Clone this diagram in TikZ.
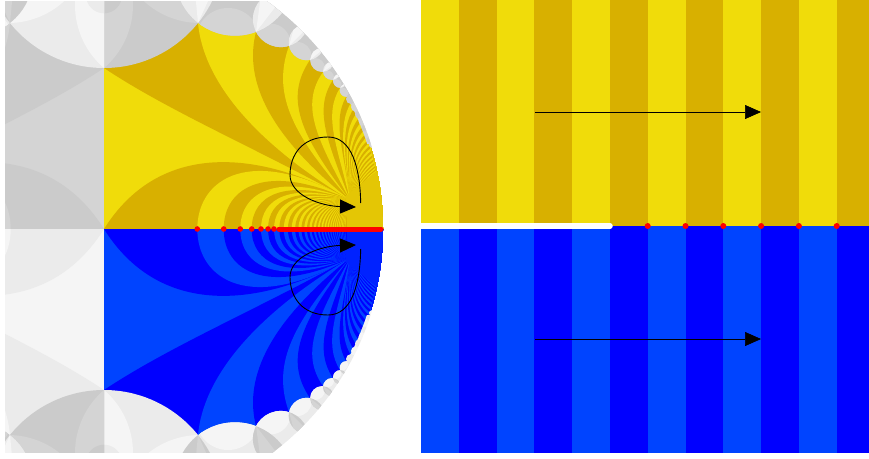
\documentclass[tikz,border=0pt]{standalone}
\usepackage{tikz}
\usetikzlibrary{arrows.meta, positioning, calc}
\definecolor{sunlight}{HTML}{F0DC0A}
\definecolor{sundark}{HTML}{D8B000}
\definecolor{bluelight}{HTML}{0044FF}
\definecolor{bluedark}{HTML}{0000FF}
\definecolor{greyA}{HTML}{CBCBCB}
\definecolor{greyB}{HTML}{D4D4D4}
\definecolor{greyC}{HTML}{EBEBEB}
\definecolor{greyD}{HTML}{F5F5F5}
\tikzset{
  flowarrow/.style={black, line width=0.6pt, -{Stealth[length=16pt, width=14pt, inset=0pt]}},
  looparrow/.style={flowarrow, line width=0.9pt},
  reddot/.style={red, fill=red}
}
% scallops along the rim of the upper right quarter
\def\capx{{104,235,280.9,306.7,322.2,332,340.1,346.3,351,355.5,359,362.5,365,367.5,369.5,371.5}}
\def\capy{{-52.7,-24.3,19.1,42.2,59.9,70.9,80.8,90.3,99,107,114.5,121.5,128,134,140,145}}
\def\capr{{120.7,60,28,18,12,9,7,6.5,5,4.5,4,3.8,3.5,3,3,2.5}}
\def\vertx{{104,198,256,289,310,323,333,340}}
\def\verty{{68,23,32,46,60,72,80,88}}
\begin{document}
\begin{tikzpicture}[x=1pt, y=-1pt]
  \useasboundingbox (0,0) rectangle (869,458);
  \fill[white] (0,0) rectangle (869,458);
  % disk, one quarter at a time
  \begin{scope}
    \clip (5,1) rectangle (386,452);
    \clip (104,229) circle (280);
    \foreach \sx/\sy/\stripeA/\stripeB/\capA/\capB/\capC/\capD in {
        1/1/sunlight/sundark/greyA/greyB/greyC/greyD,
        -1/1/greyB/greyA/greyC/greyD/greyA/greyB,
        1/-1/bluelight/bluedark/greyC/greyD/greyA/greyB,
        -1/-1/greyD/greyC/greyA/greyB/greyC/greyD} {
      \begin{scope}[shift={(104,229)}, xscale=\sx, yscale=\sy, shift={(-104,-229)}]
        \coordinate (focus) at (350,200);
        \clip (104,-10) rectangle (400,229);
        \begin{scope}
        \clip (104,229) circle (279);
        \fill[\stripeA] (104,-10) rectangle (400,229);
        % stripes running down from the scallops
        \foreach \k/\bx/\by/\ax/\ay/\cx/\cy in {
            0/104/68/170/112/260/150,
            1/198/23/203/78/250/140,
            2/256/32/245/75/262/130,
            3/289/46/273/91/288/130,
            4/310/60/284/98/300/135,
            5/323/72/300/105/316/137,
            6/333/80/313/110/328/142,
            7/340/88/323/115/337/145,
            8/346/97/332/122/344/150} {
          \ifodd\k\relax\colorlet{cur}{\stripeA}\else\colorlet{cur}{\stripeB}\fi
          \fill[cur] (\bx,\by) .. controls (\ax,\ay) and (\cx,\cy) .. (focus)
            -- (400,200) -- (400,-10) -- (\bx,-10) -- cycle;
        }
        \foreach \k in {9,...,60} {
          \pgfmathsetmacro{\th}{2*atan(1/(3.92+0.22*(\k-8)))}
          \pgfmathsetmacro{\bx}{104+278*cos(\th)}
          \pgfmathsetmacro{\by}{229-278*sin(\th)}
          \pgfmathsetmacro{\wt}{max(0,1-(\k-8)/30)}
          \ifodd\k\relax\colorlet{cur}{\stripeA}\else\colorlet{cur}{\stripeB}\fi
          \fill[cur] (\bx,\by) .. controls ({\bx+0.3*(350-\bx)-15*\wt},{\by+0.3*(200-\by)-6*\wt})
              and ({\bx+0.7*(350-\bx)-5*\wt},{\by+0.7*(200-\by)-10*\wt}) .. (focus)
            -- (400,200) -- (400,-10) -- (\bx,-10) -- cycle;
        }
        % stripes running up from the axis
        \fill[\stripeB] (104,229) .. controls (160,140) and (260,150) .. (focus)
          -- (400,200) -- (400,229) -- cycle;
        \foreach \k/\bx in {1/197.3,2/223.7,3/240.3,4/251.7,5/261,6/268,7/274,8/279.3} {
          \pgfmathsetmacro{\len}{350-\bx}
          \ifodd\k\relax\colorlet{cur}{\stripeA}\else\colorlet{cur}{\stripeB}\fi
          \fill[cur] (\bx,229) .. controls (\bx,{229-0.3*\len-5})
              and ({350-0.65*\len},{210-0.002*\len*\len-0.13*\len}) .. (focus)
            -- (400,200) -- (400,229) -- cycle;
        }
        \foreach \k in {9,...,46} {
          \pgfmathsetmacro{\bx}{384-280/(2.674+0.12*(\k-8))}
          \pgfmathsetmacro{\len}{350-\bx}
          \ifodd\k\relax\colorlet{cur}{\stripeA}\else\colorlet{cur}{\stripeB}\fi
          \fill[cur] (\bx,229) .. controls (\bx,{229-0.3*\len-5})
              and ({350-0.65*\len},{210-0.002*\len*\len-0.13*\len}) .. (focus)
            -- (400,200) -- (400,229) -- cycle;
        }
        % blurred wedge where the stripes are too thin
        \fill[\stripeA!50!\stripeB] (346,196) -- (378,170) -- (390,229) -- (347,229) -- cycle;
        \end{scope}
        % grey rim
        \begin{scope}
          \clip (200,-10) rectangle (400,143);
          \draw[\capB, line width=5pt] (104,229) circle (279);
        \end{scope}
        % big scallop on the vertical axis
        \fill[\capA] (104,-52.7) circle (120.7);
        \begin{scope}
          \clip (104,-52.7) circle (120.7);
          \fill[\capB] (50,5) circle (83);
          \fill[\capB] (200,-60) circle (83);
          \fill[\capA] (104,-4.7) circle (18);
        \end{scope}
        % smaller scallops
        \foreach \k/\mx/\my/\mr in {1/228/40/32,2/270.5/43.6/20,3/297.5/56/14,4/315/68/10,
            5/327/77.5/7,6/335.5/85/6,7/342/93.5/6} {
          \pgfmathsetmacro{\sx}{\capx[\k]}
          \pgfmathsetmacro{\sy}{\capy[\k]}
          \pgfmathsetmacro{\sr}{\capr[\k]}
          \fill[\capA] (\sx,\sy) circle (\sr);
          \begin{scope}
            \clip (\sx,\sy) circle (\sr);
            \fill[\capB] (\mx,\my) circle (\mr);
          \end{scope}
        }
        \foreach \k in {8,...,15} {
          \pgfmathsetmacro{\sx}{\capx[\k]}
          \pgfmathsetmacro{\sy}{\capy[\k]}
          \pgfmathsetmacro{\sr}{\capr[\k]}
          \ifodd\k\relax\colorlet{cur}{\capB}\else\colorlet{cur}{\capA}\fi
          \fill[cur] (\sx,\sy) circle (\sr);
        }
        % kites where two neighbouring scallops overlap
        \foreach \k in {1,...,7} {
          \pgfmathsetmacro{\px}{\capx[\k-1]}
          \pgfmathsetmacro{\py}{\capy[\k-1]}
          \pgfmathsetmacro{\pr}{\capr[\k-1]}
          \pgfmathsetmacro{\sx}{\capx[\k]}
          \pgfmathsetmacro{\sy}{\capy[\k]}
          \pgfmathsetmacro{\sr}{\capr[\k]}
          \pgfmathsetmacro{\tx}{\vertx[\k]}
          \pgfmathsetmacro{\ty}{\verty[\k]}
          \pgfmathsetmacro{\ang}{atan2(\ty-229,\tx-104)}
          \begin{scope}
            \clip (\px,\py) circle (\pr);
            \clip (\sx,\sy) circle (\sr);
            \fill[\capC] (\tx,\ty) circle (70);
            \fill[\capD] (\tx,\ty) -- +({\ang}:70) -- +({\ang-30}:70) -- cycle;
          \end{scope}
        }
      \end{scope}
    }
  \end{scope}
  % real axis
  \draw[red, line width=5pt, line cap=round] (279,229) -- (381,229);
  \foreach \dotx in {197.3,223.7,240.3,251.7,261,268,274} {
    \fill[reddot] (\dotx,229) circle (2.8);
  }
  % strip picture
  \fill[sunlight] (421,0) rectangle (869,226);
  \fill[bluelight] (421,226) rectangle (869,453);
  \foreach \j in {1,3,5,7,9,11} {
    \fill[sundark] ({421+37.8*\j},0) rectangle ({min(869,421+37.8*(\j+1))},226);
    \fill[bluedark] ({421+37.8*\j},226) rectangle ({min(869,421+37.8*(\j+1))},453);
  }
  \draw[white, line width=5.5pt, line cap=round] (419,226) -- (610,226);
  \fill[white] (415,220) rectangle (421,232);
  \foreach \j in {6,...,11} {
    \fill[reddot] ({421+37.8*\j-0.1},226) circle (3);
  }
  % arrows
  \coordinate (upstart) at (535,112);
  \coordinate (upend) at (761,112);
  \coordinate (downstart) at (535,339);
  \coordinate (downend) at (761,339);
  \draw[flowarrow] (upstart) -- (upend);
  \draw[flowarrow] (downstart) -- (downend);
  \coordinate (looptop) at (360.7,203);
  \coordinate (looptopend) at (356,207);
  \coordinate (loopbot) at (360.7,249);
  \coordinate (loopbotend) at (356,245);
  \draw[looparrow] (looptop) .. controls (360,168) and (352,137) .. (328,137)
    .. controls (302,137) and (290,155) .. (290,175)
    .. controls (290,195) and (320,206) .. (looptopend);
  \draw[looparrow] (loopbot) .. controls (360,284) and (352,315) .. (328,315)
    .. controls (302,315) and (290,297) .. (290,277)
    .. controls (290,257) and (320,246) .. (loopbotend);
\end{tikzpicture}
\end{document}
